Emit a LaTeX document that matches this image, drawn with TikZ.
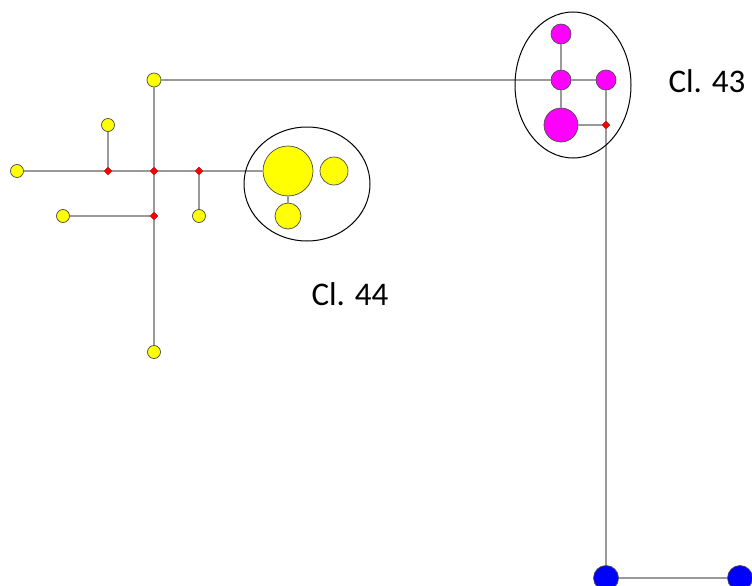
\documentclass[tikz,border=0pt]{standalone}
\usepackage{fontspec}
\setmainfont{Carlito}
\usetikzlibrary{shapes.geometric}

\definecolor{hapmag}{RGB}{255,0,255}
\definecolor{hapyel}{RGB}{255,255,0}
\definecolor{hapblu}{RGB}{0,0,255}
\tikzset{
  hap/.style={circle, draw=black!70, line width=0.7pt, inner sep=0pt},
  yel/.style={hap, fill=hapyel},
  mag/.style={hap, fill=hapmag},
  blu/.style={hap, fill=hapblu},
  med/.style={diamond, fill=red, draw=red!60!black, line width=0.3pt,
              minimum size=8pt, inner sep=0pt},
  link/.style={draw=black!40, line width=1.8pt},
  clus/.style={draw=black, line width=1pt},
  lbl/.style={font=\fontsize{33}{38}\selectfont}
}

\begin{document}
\begin{tikzpicture}[x=1pt, y=-1pt]
  \useasboundingbox (0,0) rectangle (752,586);
  % haplotipos amarelos (Cl. 44)
  \node[yel, minimum size=14pt] (ya) at (154,80) {};
  \node[yel, minimum size=13pt] (yb) at (108,125) {};
  \node[yel, minimum size=13pt] (yc) at (17,171) {};
  \node[yel, minimum size=13pt] (yd) at (63,216) {};
  \node[yel, minimum size=13pt] (ye) at (199,216) {};
  \node[yel, minimum size=13pt] (yf) at (154,352) {};
  \node[yel, minimum size=50pt] (ybig) at (288,171) {};
  \node[yel, minimum size=28pt] (ymid) at (334,171) {};
  \node[yel, minimum size=26pt] (ylow) at (288,216) {};
  % vetores medianos
  \node[med] (ma) at (108,171) {};
  \node[med] (mb) at (154,171) {};
  \node[med] (mc) at (199,171) {};
  \node[med] (md) at (154,216) {};
  \node[med] (me) at (606,125) {};
  % haplotipos magenta (Cl. 43)
  \node[mag, minimum size=20pt] (pa) at (561,34) {};
  \node[mag, minimum size=20pt] (pb) at (561,80) {};
  \node[mag, minimum size=20pt] (pc) at (606,80) {};
  \node[mag, minimum size=34pt] (pbig) at (561,125) {};
  % haplotipos azuis
  \node[blu, minimum size=25pt] (ba) at (606,578) {};
  \node[blu, minimum size=25pt] (bb) at (740,578) {};
  % ligacoes
  \path[link] (ya) -- (pb);
  \path[link] (ya) -- (mb);
  \path[link] (mb) -- (md);
  \path[link] (md) -- (yf);
  \path[link] (yd) -- (md);
  \path[link] (yc) -- (ma);
  \path[link] (ma) -- (mb);
  \path[link] (mb) -- (mc);
  \path[link] (mc) -- (ybig);
  \path[link] (yb) -- (ma);
  \path[link] (mc) -- (ye);
  \path[link] (ybig) -- (ylow);
  \path[link] (pa) -- (pb);
  \path[link] (pb) -- (pbig);
  \path[link] (pb) -- (pc);
  \path[link] (pc) -- (me);
  \path[link] (pbig) -- (me);
  \path[link] (me) -- (ba);
  \path[link] (ba) -- (bb);
  % agrupamentos
  \draw[clus] (307,184) ellipse [x radius=63, y radius=57];
  \draw[clus] (573,85) ellipse [x radius=58, y radius=73];
  \node[lbl] (cl44) at (350,294) {Cl. 44};
  \node[lbl] (cl43) at (707,81) {Cl. 43};
\end{tikzpicture}
\end{document}
